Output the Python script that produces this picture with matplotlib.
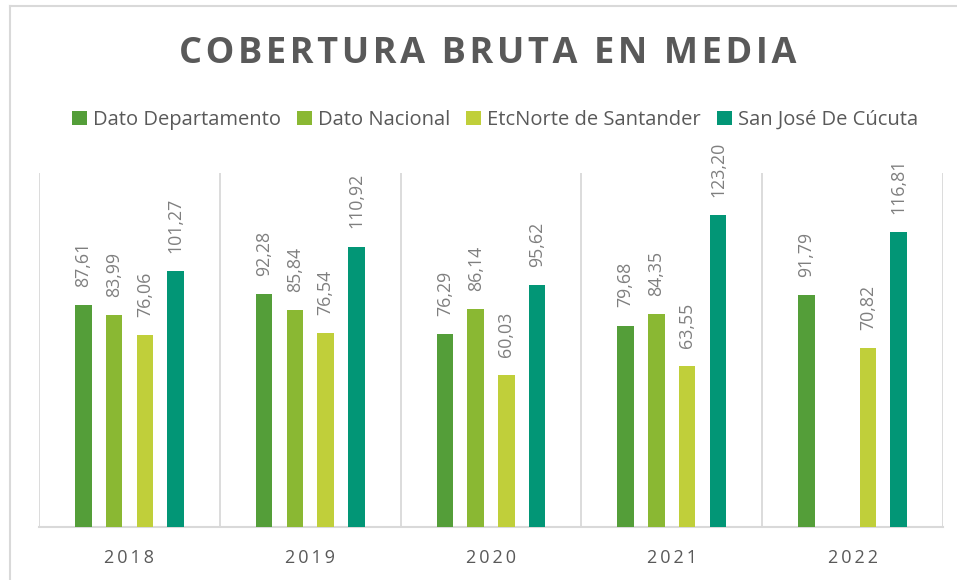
import matplotlib.pyplot as plt
from matplotlib.lines import Line2D
import numpy as np

# datos
years = ['2018', '2019', '2020', '2021', '2022']
series = ['Dato Departamento', 'Dato Nacional', 'EtcNorte de Santander', 'San José De Cúcuta']
dato_departamento = [87.61, 92.28, 76.29, 79.68, 91.79]
dato_nacional = [83.99, 85.84, 86.14, 84.35, np.nan]
etc_norte = [76.06, 76.54, 60.03, 63.55, 70.82]
cucuta = [101.27, 110.92, 95.62, 123.20, 116.81]
colors = ['#549E39', '#8AB833', '#C0CF3A', '#029676']

plt.rcParams['font.family'] = ['Open Sans', 'DejaVu Sans']

fig = plt.figure(figsize=(9.57, 5.80), dpi=100)
W, H = 957, 580
ax = fig.add_axes([39 / W, 1 - 527 / H, (943 - 39) / W, (527 - 173) / H])

x = np.arange(len(years))
bar_w = 0.091
step = 0.17
all_vals = [dato_departamento, dato_nacional, etc_norte, cucuta]
for i, vals in enumerate(all_vals):
    pos = x + (i - 1.5) * step
    ax.bar(pos, vals, width=bar_w, color=colors[i], label=series[i], zorder=3)
    for xp, v in zip(pos, vals):
        if np.isnan(v):
            continue
        ax.annotate(f'{v:.2f}'.replace('.', ','), (xp, v), xytext=(0, 13),
                    textcoords='offset points', rotation=90, ha='center', va='bottom',
                    fontsize=12.8, color='#7F7F7F', annotation_clip=False)

ax.set_xlim(-0.5, len(years) - 0.5)
ax.set_ylim(0, 140)
ax.set_yticks([])
ax.set_xticks(x)
ax.set_xticklabels(['\u2009'.join(y) for y in years], fontsize=13, color='#595959')
ax.tick_params(axis='x', length=0, pad=16)
for s in ['top', 'right', 'left']:
    ax.spines[s].set_visible(False)
ax.spines['bottom'].set_color('#D9D9D9')
ax.spines['bottom'].set_linewidth(1.5)
for b in np.arange(-0.5, len(years), 1.0):
    ax.axvline(b, color='#D9D9D9', lw=1.3, zorder=1)

# título con espaciado entre letras
title = '\u200a \u200a'.join('\u200a'.join(w) for w in 'COBERTURA BRUTA EN MEDIA'.split())
fig.text(488 / W, 1 - 54 / H, title,
         ha='center', va='center', fontsize=26, fontweight='bold', color='#595959')

fig.legend(loc='center', bbox_to_anchor=(495 / W, 1 - 120 / H), ncol=4, frameon=False,
           fontsize=14.5, handlelength=0.75, handleheight=0.75, handletextpad=0.3,
           columnspacing=0.8, labelcolor='#595959')

# marco exterior
fig.add_artist(Line2D([10 / W, 10 / W], [0, 1 - 6 / H], color='#D9D9D9', lw=1.5))
fig.add_artist(Line2D([10 / W, 1], [1 - 6 / H, 1 - 6 / H], color='#D9D9D9', lw=1.5))

fig.savefig('out.png', dpi=100)
